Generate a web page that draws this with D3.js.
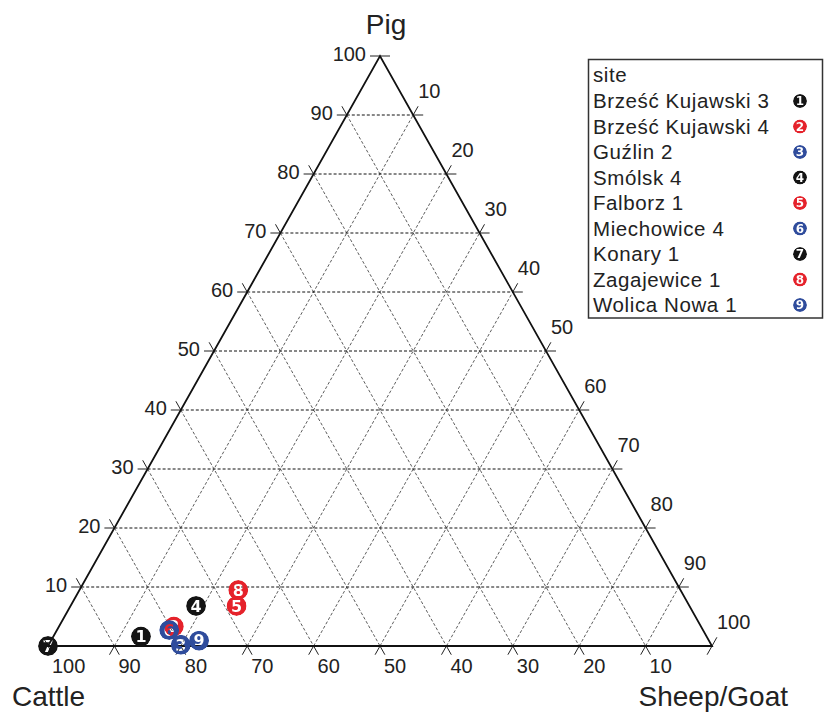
<!DOCTYPE html>
<html>
<head>
<meta charset="utf-8">
<script src="https://cdn.jsdelivr.net/npm/d3@7"></script>
<style>
  html, body { margin: 0; padding: 0; background: #fff; }
  svg { display: block; font-family: "Liberation Sans", Arial, sans-serif; }
</style>
</head>
<body>
<svg id="chart" width="824" height="712"></svg>
<script>
// ---- data ----
const sites = ["Brześć Kujawski 3", "Brześć Kujawski 4", "Guźlin 2", "Smólsk 4", "Falborz 1",
               "Miechowice 4", "Konary 1", "Zagajewice 1", "Wolica Nowa 1"];
const siteNumbers = ["1", "2", "3", "4", "5", "6", "7", "8", "9"];
const siteColors = ["#141414", "#e5222b", "#2f4c9c", "#141414", "#e5222b",
                    "#2f4c9c", "#141414", "#e5222b", "#2f4c9c"];
const cattle = [85.2, 79.4, 79.9, 74.3, 68.2, 80.4, 100, 66.6, 76.8];
const pig    = [1.6, 3.3, 0.2, 6.8, 6.8, 2.7, 0, 9.5, 0.9];
const sheep  = [13.2, 17.3, 19.9, 18.9, 25.0, 16.9, 0, 23.9, 22.3];
const drawOrder = [6, 0, 1, 7, 4, 3, 5, 2, 8];
const tickValues = [10, 20, 30, 40, 50, 60, 70, 80, 90, 100];
const gridValues = [10, 20, 30, 40, 50, 60, 70, 80, 90];
const axisTitles = { top: "Pig", left: "Cattle", right: "Sheep/Goat" };

// ---- scales ----
const svg = d3.select("#chart");
const pigY = d3.scaleLinear().domain([0, 100]).range([646, 56]);
const sheepX = d3.scaleLinear().domain([0, 100]).range([48, 712]);
const pigShift = d3.scaleLinear().domain([0, 100]).range([0, 332]);

function pt(c, p, s) {
  const t = c + p + s;
  const pp = p / t * 100, ss = s / t * 100;
  return [sheepX(ss) + pigShift(pp), pigY(pp)];
}
function unit(dx, dy) { const n = Math.hypot(dx, dy); return [dx / n, dy / n]; }

const L = 10;
const dirPig = [1, 0];
const dirSheep = unit(pigShift(100), pigY(100) - pigY(0));
const dirCattle = unit(pigShift(100), pigY(0) - pigY(100));

const gridG = svg.append("g");
function lineDefs(v) {
  return [
    { a: pt(100 - v, v, 0), b: pt(0, v, 100 - v), d: dirPig, kind: "pig" },
    { a: pt(100 - v, 0, v), b: pt(0, 100 - v, v), d: dirSheep, kind: "sheep" },
    { a: pt(v, 100 - v, 0), b: pt(v, 0, 100 - v), d: dirCattle, kind: "cattle" }
  ];
}
gridValues.forEach(v => {
  lineDefs(v).forEach(l => {
    gridG.append("line")
      .attr("x1", l.a[0]).attr("y1", l.a[1]).attr("x2", l.b[0]).attr("y2", l.b[1])
      .attr("stroke", l.kind === "pig" ? "#111" : "#333")
      .attr("stroke-width", l.kind === "pig" ? 1 : 0.8)
      .attr("stroke-dasharray", "3,2");
  });
});

const tickG = svg.append("g").attr("stroke", "#222").attr("stroke-width", 1);
tickValues.forEach(v => {
  lineDefs(v).forEach(l => {
    tickG.append("line")
      .attr("x1", l.a[0] - L * l.d[0]).attr("y1", l.a[1] - L * l.d[1])
      .attr("x2", l.a[0]).attr("y2", l.a[1]);
    tickG.append("line")
      .attr("x1", l.b[0]).attr("y1", l.b[1])
      .attr("x2", l.b[0] + L * l.d[0]).attr("y2", l.b[1] + L * l.d[1]);
  });
});

const tri = [pt(100, 0, 0), pt(0, 100, 0), pt(0, 0, 100)];
svg.append("path")
  .attr("d", d3.line()(tri) + "Z")
  .attr("fill", "none").attr("stroke", "#111").attr("stroke-width", 1.8);

const labG = svg.append("g").attr("font-size", 20).attr("fill", "#222");
tickValues.forEach(v => {
  const lp = pt(100 - v, v, 0);
  labG.append("text").attr("x", lp[0] - 14).attr("y", lp[1] - 2)
    .attr("dy", "0.35em").attr("text-anchor", "end").text(v);
  const rp = pt(0, 100 - v, v);
  labG.append("text").attr("x", rp[0] + 5).attr("y", rp[1] - 24)
    .attr("dy", "0.35em").attr("text-anchor", "start").text(v);
  const bp = pt(v, 0, 100 - v);
  labG.append("text").attr("x", bp[0] + 4).attr("y", bp[1] + 20)
    .attr("dy", "0.35em").attr("text-anchor", "start").text(v);
});

const titleG = svg.append("g").attr("font-size", 28).attr("fill", "#222");
titleG.append("text").attr("x", 386).attr("y", 34).attr("text-anchor", "middle").text(axisTitles.top);
titleG.append("text").attr("x", 12).attr("y", 706).attr("text-anchor", "start").text(axisTitles.left);
titleG.append("text").attr("x", 788).attr("y", 706).attr("text-anchor", "end").text(axisTitles.right);

const defs = svg.append("defs");
function marker(g, id, cx, cy, r, fs, color, label) {
  const m = defs.append("mask").attr("id", id).attr("maskUnits", "userSpaceOnUse")
    .attr("x", cx - r - 2).attr("y", cy - r - 2).attr("width", 2 * r + 4).attr("height", 2 * r + 4);
  m.append("circle").attr("cx", cx).attr("cy", cy).attr("r", r).attr("fill", "#fff");
  m.append("text").attr("x", cx).attr("y", cy).attr("dy", "0.36em")
    .attr("text-anchor", "middle").attr("font-family", "'DejaVu Sans', sans-serif")
    .attr("font-weight", "bold").attr("font-size", fs).attr("fill", "#000").text(label);
  g.append("circle").attr("cx", cx).attr("cy", cy).attr("r", r)
    .attr("fill", color).attr("mask", `url(#${id})`);
}
const ptG = svg.append("g");
drawOrder.forEach(i => {
  const p = pt(cattle[i], pig[i], sheep[i]);
  marker(ptG, "mp" + i, p[0], p[1], 10, 16, siteColors[i], siteNumbers[i]);
});

const leg = svg.append("g");
leg.append("rect").attr("x", 588.5).attr("y", 59.5).attr("width", 234).attr("height", 258.5)
  .attr("fill", "#fff").attr("stroke", "#333").attr("stroke-width", 1.5);
leg.append("text").attr("x", 593).attr("y", 75).attr("dy", "0.35em")
  .attr("font-size", 20.5).attr("letter-spacing", 0.6).attr("fill", "#222").text("site");
const legY = d3.scaleLinear().domain([0, 8]).range([101, 305]);
sites.forEach((s, i) => {
  leg.append("text").attr("x", 593).attr("y", legY(i)).attr("dy", "0.35em")
    .attr("font-size", 20.5).attr("letter-spacing", 0.6).attr("fill", "#222").text(s);
  marker(leg, "ml" + i, 800, legY(i), 7, 12, siteColors[i], siteNumbers[i]);
});
</script>
</body>
</html>
